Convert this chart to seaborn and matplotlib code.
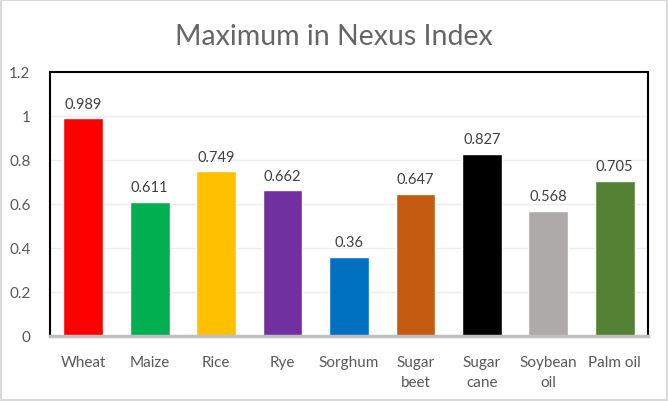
import matplotlib
matplotlib.use("Agg")
import matplotlib.pyplot as plt
import matplotlib.patches as mpatches
import seaborn as sns
import pandas as pd

# Dados do gráfico
culturas = ["Wheat", "Maize", "Rice", "Rye", "Sorghum", "Sugar\nbeet", "Sugar\ncane", "Soybean\noil", "Palm oil"]
valores = [0.989, 0.611, 0.749, 0.662, 0.36, 0.647, 0.827, 0.568, 0.705]
rotulos = ["0.989", "0.611", "0.749", "0.662", "0.36", "0.647", "0.827", "0.568", "0.705"]
cores = ["#FF0000", "#00B050", "#FFC000", "#7030A0", "#0070C0", "#C55A11", "#000000", "#AEAAAA", "#548235"]

sns.set_theme(style="white")
plt.rcParams["font.family"] = ["Lato", "DejaVu Sans"]

df = pd.DataFrame({"cultura": culturas, "valor": valores})

fig = plt.figure(figsize=(6.68, 4.02), dpi=100)
ax = fig.add_axes([50 / 668, 1 - 337 / 402, 598 / 668, 264 / 402])

sns.barplot(data=df, x="cultura", y="valor", hue="cultura", palette=cores,
            legend=False, width=0.6, saturation=1, ax=ax, zorder=3)

ax.set_ylim(0, 1.2)
ax.set_yticks([0, 0.2, 0.4, 0.6, 0.8, 1, 1.2])
ax.set_yticklabels(["0", "0.2", "0.4", "0.6", "0.8", "1", "1.2"])
ax.yaxis.grid(True, color="#EDEDED", linewidth=1, zorder=0)
ax.set_xlabel("")
ax.set_ylabel("")
ax.tick_params(axis="both", length=0, labelsize=11, labelcolor="#595959")
ax.tick_params(axis="x", pad=14)
ax.tick_params(axis="y", pad=14)
for lbl in ax.get_xticklabels():
    lbl.set_multialignment("center")
    lbl.set_linespacing(1.5)

for lado in ["left", "top", "right"]:
    ax.spines[lado].set_color("black")
    ax.spines[lado].set_linewidth(1.5)
ax.spines["bottom"].set_color("#BFBFBF")
ax.spines["bottom"].set_linewidth(2.5)
ax.spines["bottom"].set_zorder(4)

for i, (v, r) in enumerate(zip(valores, rotulos)):
    ax.text(i, v + 0.035, r, ha="center", va="bottom", fontsize=10.5, color="#404040")

fig.text(0.5, 1 - 37 / 402, "Maximum in Nexus Index", ha="center", va="center",
         fontsize=20.5, color="#666666")

# Borda externa
fig.patches.append(mpatches.Rectangle((0.002, 0.003), 0.996, 0.994, transform=fig.transFigure,
                                      fill=False, edgecolor="#D9D9D9", linewidth=1.5))

fig.savefig("out.png", dpi=100)
